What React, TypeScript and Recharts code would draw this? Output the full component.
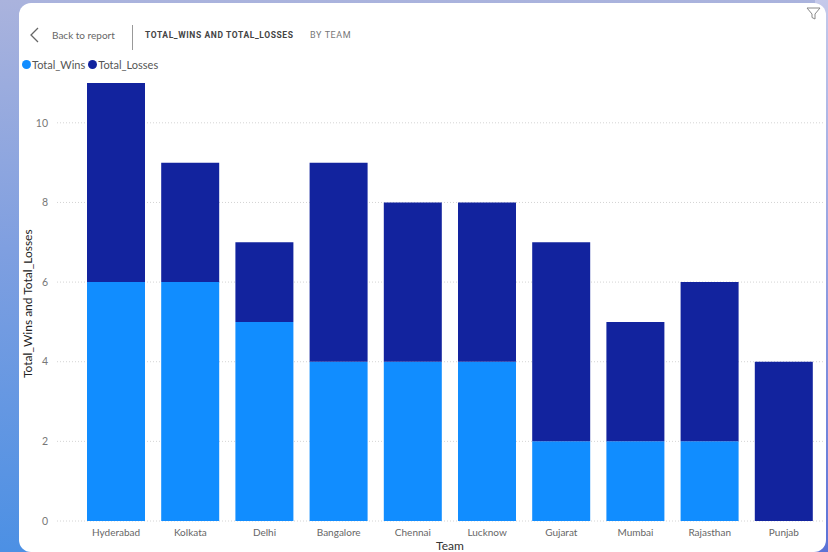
import { BarChart, Bar, XAxis, YAxis, CartesianGrid, Legend } from 'recharts'

const TEAMS = ['Hyderabad', 'Kolkata', 'Delhi', 'Bangalore', 'Chennai', 'Lucknow', 'Gujarat', 'Mumbai', 'Rajasthan', 'Punjab']
const TOTAL_WINS = [6, 6, 5, 4, 4, 4, 2, 2, 2, 0]
const TOTAL_LOSSES = [5, 3, 2, 5, 4, 4, 5, 3, 4, 4]
const Y_TICKS = [0, 2, 4, 6, 8, 10]

const WIN_COLOR = '#118DFF'
const LOSS_COLOR = '#12239E'
const FONT = 'Lato, "Open Sans", sans-serif'

const data = TEAMS.map((team, i) => ({ team, Total_Wins: TOTAL_WINS[i], Total_Losses: TOTAL_LOSSES[i] }))

export default function App() {
  return (
    <div style={{
      position: 'fixed', left: 0, top: 0, width: 828, height: 552, overflow: 'hidden',
      background: 'linear-gradient(180deg, #aab3dd 0%, #7f9fe0 45%, #4c90e4 100%)', fontFamily: FONT,
    }}>
      <div style={{ position: 'absolute', left: 815, top: 0, width: 13, height: 552, background: 'linear-gradient(180deg, #c5c9ea 0%, #5b72d6 100%)' }} />
      <div style={{ position: 'absolute', left: 19, top: 3, width: 807, height: 549, background: '#fff', borderRadius: 12 }} />

      <svg width={18} height={18} style={{ position: 'absolute', left: 27, top: 26 }}>
        <path d="M11 2 L4 9 L11 16" fill="none" stroke="#666" strokeWidth={1.3} />
      </svg>
      <div style={{ position: 'absolute', left: 52, top: 29, fontSize: 10, color: '#666' }}>Back to report</div>
      <div style={{ position: 'absolute', left: 132, top: 25, width: 1, height: 25, background: '#999' }} />
      <div style={{ position: 'absolute', left: 145, top: 30, fontFamily: 'Roboto', fontSize: 8.5, fontWeight: 700, letterSpacing: 0.6, color: '#444' }}>TOTAL_WINS AND TOTAL_LOSSES</div>
      <div style={{ position: 'absolute', left: 310, top: 30, fontFamily: 'Roboto', fontSize: 9, letterSpacing: 0.6, color: '#777' }}>BY TEAM</div>
      <svg width={16} height={15} style={{ position: 'absolute', left: 806, top: 6 }}>
        <path d="M1 2 H14 L9 8 V13 L6 11.5 V8 Z" fill="none" stroke="#888" strokeWidth={1} />
      </svg>

      <div style={{ position: 'absolute', left: 0, top: 0 }}>
        <BarChart width={828} height={552} data={data} margin={{ top: 66, right: 3, bottom: 0, left: 27 }}>
          <CartesianGrid vertical={false} stroke="#d4d4d4" strokeDasharray="1 2" syncWithTicks />
          <XAxis
            dataKey="team" height={31} padding={{ left: 22, right: 4 }} axisLine={false} tickLine={false}
            interval={0} tick={{ fill: '#666', fontSize: 10, fontFamily: FONT }} tickMargin={2}
            label={{ value: 'Team', position: 'insideBottom', offset: 2, dx: 9, fill: '#333', fontSize: 12, fontFamily: FONT }}
          />
          <YAxis
            width={30} domain={[0, 11]} ticks={Y_TICKS} axisLine={false} tickLine={false}
            tick={{ fill: '#777', fontSize: 10.5, fontFamily: FONT }} tickMargin={3}
            label={{ value: 'Total_Wins and Total_Losses', angle: -90, position: 'insideLeft', offset: 1, dy: 76, fill: '#222', fontSize: 12, fontFamily: FONT }}
          />
          <Legend
            verticalAlign="top" align="left" iconType="circle" iconSize={9} itemSorter={null}
            wrapperStyle={{ position: 'absolute', left: 22, top: 53, width: 220, height: 17, whiteSpace: 'nowrap' }}
            formatter={(value: string) => <span style={{ color: '#555', fontSize: 11, marginLeft: -3, marginRight: -7, whiteSpace: 'nowrap' }}>{value}</span>}
          />
          <Bar dataKey="Total_Wins" stackId="a" fill={WIN_COLOR} barSize={58} isAnimationActive={false} />
          <Bar dataKey="Total_Losses" stackId="a" fill={LOSS_COLOR} barSize={58} isAnimationActive={false} />
        </BarChart>
      </div>
    </div>
  )
}
